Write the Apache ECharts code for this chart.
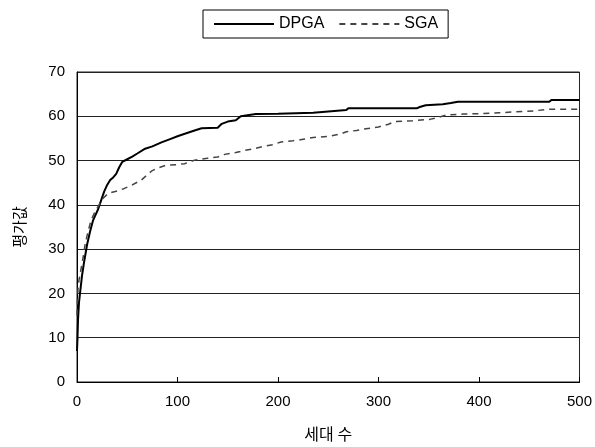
<!DOCTYPE html>
<html>
<head>
<meta charset="utf-8">
<script src="https://cdn.jsdelivr.net/npm/echarts@6/dist/echarts.min.js"></script>
<style>
html,body{margin:0;padding:0;background:#fff;}
#c{width:595px;height:447px;}
</style>
</head>
<body>
<div id="c"></div>
<script>
var seriesNames = ['DPGA', 'SGA'];
var xTicks = [0, 100, 200, 300, 400, 500];
var yTicks = [0, 10, 20, 30, 40, 50, 60, 70];
var xAxisTitle = '세대 수';
var yAxisTitle = '평가값';

var dpga = [[0,7],[0.5,10],[1,14],[2,18],[3,20],[5,24],[7,27],[10,31],[13,34],[16,36.5],[18,37.5],[21,39],[24,41],[27,43],[30,44.5],[33,45.6],[36,46.2],[39,47],[42,48.5],[45,49.7],[50,50.3],[55,50.9],[60,51.6],[67,52.6],[75,53.2],[84,54.1],[92,54.8],[100,55.5],[108,56.1],[117,56.8],[124,57.3],[140,57.4],[144,58.3],[150,58.8],[158,59.1],[163,60.0],[178,60.5],[200,60.6],[235,60.8],[236,61.2],[268,61.4],[270,61.8],[338,61.8],[341,62.1],[347,62.5],[364,62.7],[372,63.0],[379,63.3],[470,63.3],[472,63.7],[500,63.7]];

var sga = [[0,15],[0.5,19],[1,21],[2,23],[4,25.5],[6,28],[8,31],[11,34],[14,36.5],[18,38.5],[22,40],[26,41.5],[31,42.6],[38,43],[46,43.6],[55,44.5],[64,45.6],[70,46.8],[74,47.6],[80,48.3],[88,48.9],[100,49.1],[107,49.3],[117,50.1],[130,50.5],[140,50.8],[147,51.4],[158,51.8],[167,52.3],[175,52.6],[185,53.2],[195,53.6],[203,54.2],[215,54.5],[222,54.7],[235,55.2],[251,55.5],[262,56.0],[268,56.5],[278,56.8],[285,57.1],[300,57.6],[310,58.2],[316,58.8],[334,59.0],[351,59.3],[360,59.8],[368,60.3],[384,60.5],[404,60.6],[420,60.8],[437,61.0],[454,61.2],[465,61.5],[470,61.6],[500,61.6]];

var font = '"Liberation Sans", Arial, sans-serif';
var cjk = '"Noto Sans CJK KR", sans-serif';

var chart = echarts.init(document.getElementById('c'), null, {renderer: 'canvas'});
chart.setOption({
  backgroundColor: '#fff',
  animation: false,
  legend: {
    left: 203,
    top: 10,
    orient: 'horizontal',
    padding: [6, 10, 6, 10],
    itemGap: 14,
    itemWidth: 60,
    itemHeight: 14,
    borderColor: '#000',
    borderWidth: 1,
    borderRadius: 0,
    itemStyle: {opacity: 0},
    textStyle: {fontFamily: font, fontSize: 16, color: '#000'},
    data: seriesNames
  },
  grid: {
    left: 77, right: 15, top: 72, bottom: 65,
    show: true, borderColor: '#222', borderWidth: 1
  },
  xAxis: {
    type: 'value', min: xTicks[0], max: xTicks[xTicks.length - 1], interval: 100,
    name: xAxisTitle, nameLocation: 'middle', nameGap: 44,
    nameTextStyle: {fontFamily: cjk, fontSize: 16, color: '#000'},
    axisLine: {show: true, lineStyle: {color: '#000', width: 1}},
    axisTick: {show: true, inside: true, length: 5, lineStyle: {color: '#000'}},
    axisLabel: {fontFamily: font, fontSize: 15, color: '#000', margin: 12},
    splitLine: {show: false}
  },
  yAxis: {
    type: 'value', min: yTicks[0], max: yTicks[yTicks.length - 1], interval: 10,
    name: yAxisTitle, nameLocation: 'middle', nameGap: 50,
    nameTextStyle: {fontFamily: cjk, fontSize: 15, color: '#000'},
    axisLine: {show: true, lineStyle: {color: '#000', width: 1}},
    axisTick: {show: false},
    axisLabel: {fontFamily: font, fontSize: 15, color: '#000', margin: 12},
    splitLine: {show: true, lineStyle: {color: '#222', width: 1}}
  },
  series: [
    {
      name: seriesNames[0], type: 'line', data: dpga, symbol: 'none', smooth: false,
      lineStyle: {color: '#000', width: 2, type: 'solid'},
      itemStyle: {color: '#000'}
    },
    {
      name: seriesNames[1], type: 'line', data: sga, symbol: 'none', smooth: false,
      lineStyle: {color: '#444', width: 1.5, type: [6, 5]},
      itemStyle: {color: '#444'}
    }
  ]
});
</script>
</body>
</html>
